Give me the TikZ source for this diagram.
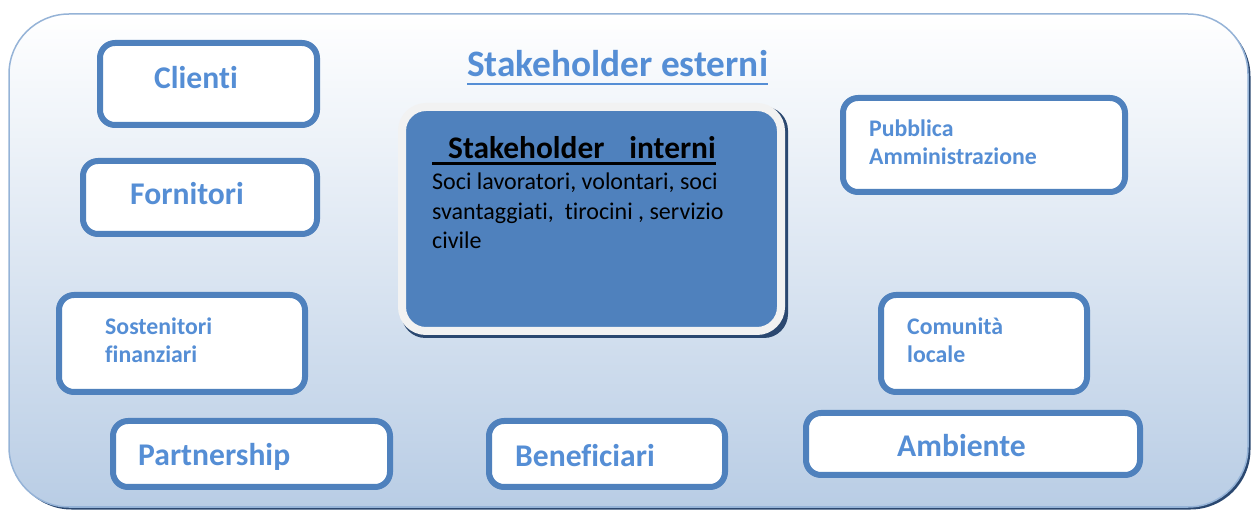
\documentclass[tikz,border=0pt]{standalone}
\usepackage{fontspec}
\setmainfont{Carlito}[Ligatures=CommonOff]
\definecolor{boxblue}{HTML}{4F81BD}
\definecolor{textblue}{HTML}{558ED5}
\definecolor{outerline}{HTML}{95B3D7}
\definecolor{outerbot}{HTML}{B9CDE5}
\definecolor{shadowc}{HTML}{2B4870}
\definecolor{greyrim}{HTML}{F2F2F2}
\begin{document}
\begin{tikzpicture}[x=1pt,y=-1pt,
  sbox/.style={draw=boxblue, line width=6pt, fill=white, rounded corners=15pt, inner sep=0pt},
  bigtxt/.style={text=textblue, font=\fontsize{31.6}{37}\selectfont\bfseries, inner sep=0pt, anchor=base west},
  smalltxt/.style={text=textblue, font=\fontsize{23.8}{28}\selectfont\bfseries, inner sep=0pt, anchor=base west},
  bodytxt/.style={font=\fontsize{24}{29}\selectfont, inner sep=0pt, anchor=base west},
]
\useasboundingbox (0,0) rectangle (1251,510);
% outer frame
\fill[shadowc, rounded corners=60pt] (11.5,16.5) rectangle (1250.5,509.5);
\shade[top color=white, bottom color=outerbot, rounded corners=60pt] (9,14) rectangle (1248,507);
\draw[outerline, line width=1.5pt, rounded corners=60pt] (9,14) rectangle (1248,507);

% title
\node[text=textblue, font=\fontsize{37.3}{44}\selectfont\bfseries, inner sep=0pt, anchor=base west] (esterni) at (467,77) {Stakeholder esterni};
\draw[textblue, line width=2.8pt] ([yshift=-7pt]esterni.base west) -- ([yshift=-7pt]esterni.base east);

% central box
\fill[shadowc, rounded corners=24pt] (401.5,106.5) rectangle (788,338);
\node[draw=greyrim, line width=8pt, fill=boxblue, rounded corners=24pt, minimum width=379pt, minimum height=224pt, inner sep=0pt] (interni) at (591.5,219) {};
\node[font=\fontsize{31.4}{37}\selectfont\bfseries, inner sep=0pt, anchor=base west] (intitle) at (432,159) {\hspace*{16pt}Stakeholder\hspace*{25pt}interni};
\draw[black, line width=2.4pt] ([yshift=-4.5pt]intitle.base west) -- ([yshift=-4.5pt]intitle.base east);
\node[bodytxt] (l1) at (432,190) {Soci lavoratori, volontari, soci};
\node[bodytxt] (l2) at (432,220) {svantaggiati,\ \ tirocini , servizio};
\node[bodytxt] (l3) at (432,249) {civile};

% boxes
\node[sbox, minimum width=217pt, minimum height=82pt] (clienti) at (208.5,84) {};
\node[bigtxt] (tclienti) at (154,89) {Clienti};
\node[sbox, minimum width=234pt, minimum height=73pt] (fornitori) at (200,197.5) {};
\node[bigtxt] (tfornitori) at (130,205) {Fornitori};
\node[sbox, minimum width=246pt, minimum height=97pt] (sostenitori) at (182,343.5) {};
\node[smalltxt] (tsost1) at (105,335) {Sostenitori};
\node[smalltxt] (tsost2) at (105,363) {finanziari};
\node[sbox, minimum width=277pt, minimum height=66pt] (partnership) at (251.5,454) {};
\node[bigtxt] (tpartnership) at (138,466) {Partnership};
\node[sbox, minimum width=236pt, minimum height=66pt] (beneficiari) at (607,454) {};
\node[bigtxt] (tbeneficiari) at (515,467) {Beneficiari};
\node[sbox, minimum width=206pt, minimum height=97pt] (comunita) at (984,343.5) {};
\node[smalltxt] (tcom1) at (907,335) {Comunità};
\node[smalltxt] (tcom2) at (907,363) {locale};
\node[sbox, minimum width=334pt, minimum height=62pt] (ambiente) at (973,444) {};
\node[bigtxt] (tambiente) at (897,457) {Ambiente};
\node[sbox, minimum width=282pt, minimum height=94pt] (pubblica) at (984,145) {};
\node[smalltxt] (tpub1) at (869,137) {Pubblica};
\node[smalltxt] (tpub2) at (869,165) {Amministrazione};
\end{tikzpicture}
\end{document}
